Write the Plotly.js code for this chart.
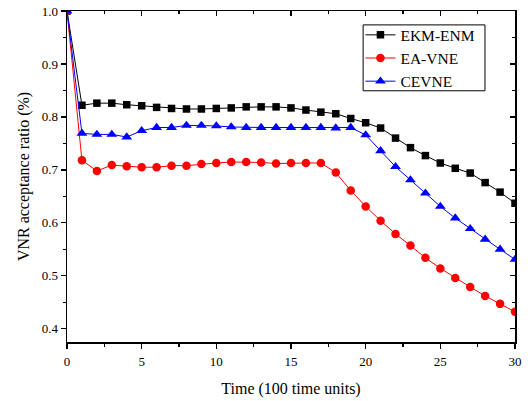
<!DOCTYPE html>
<html>
<head>
<meta charset="utf-8">
<script src="https://cdn.plot.ly/plotly-3.0.1.min.js"></script>
<style>html,body{margin:0;padding:0;background:#fff;}#chart{width:532px;height:401px;}</style>
</head>
<body>
<div id="chart"></div>
<script>
var timeSteps = [0,1,2,3,4,5,6,7,8,9,10,11,12,13,14,15,16,17,18,19,20,21,22,23,24,25,26,27,28,29,30];
var ekmEnm = [1.0,0.822,0.826,0.826,0.823,0.821,0.818,0.816,0.815,0.815,0.816,0.817,0.819,0.819,0.819,0.817,0.813,0.809,0.806,0.797,0.789,0.779,0.760,0.742,0.727,0.713,0.703,0.694,0.676,0.658,0.637];
var eaVne = [1.0,0.718,0.698,0.709,0.707,0.705,0.705,0.708,0.708,0.711,0.713,0.715,0.715,0.714,0.712,0.713,0.713,0.713,0.695,0.661,0.631,0.604,0.579,0.557,0.534,0.514,0.496,0.479,0.462,0.447,0.432];
var cevne = [1.0,0.769,0.767,0.767,0.762,0.774,0.780,0.780,0.784,0.784,0.783,0.781,0.780,0.780,0.780,0.780,0.780,0.780,0.779,0.780,0.766,0.736,0.706,0.681,0.656,0.631,0.609,0.589,0.569,0.550,0.531];
var xTickVals = [0,5,10,15,20,25,30];
var yTickVals = [0.4,0.5,0.6,0.7,0.8,0.9,1.0];
var yTickText = ['0.4','0.5','0.6','0.7','0.8','0.9','1.0'];

var serif = 'Liberation Serif, Times New Roman, serif';
var traces = [
  {x: timeSteps, y: ekmEnm, name: 'EKM-ENM', mode: 'lines+markers', line: {color: '#000000', width: 1}, marker: {symbol: 'square', size: 7.5, color: '#000000'}},
  {x: timeSteps, y: eaVne, name: 'EA-VNE', mode: 'lines+markers', line: {color: '#ff0000', width: 1}, marker: {symbol: 'circle', size: 8.5, color: '#ff0000'}},
  {x: timeSteps, y: cevne, name: 'CEVNE', mode: 'lines+markers', line: {color: '#0000ff', width: 1}, marker: {symbol: 'triangle-up', size: 9.5, color: '#0000ff'}},
  {x: [0], y: [0.5], xaxis: 'x2', yaxis: 'y2', mode: 'markers', marker: {opacity: 0}, showlegend: false, hoverinfo: 'skip'}
];
var layout = {
  width: 532, height: 401,
  margin: {l: 67, r: 17, t: 11, b: 59},
  paper_bgcolor: '#ffffff', plot_bgcolor: '#ffffff',
  font: {family: serif, size: 13, color: '#000'},
  showlegend: true,
  legend: {x: 0.655, y: 0.978, xanchor: 'left', yanchor: 'top', bgcolor: 'rgba(0,0,0,0)', borderwidth: 0, font: {family: serif, size: 15.5, color: '#000'}},
  shapes: [
    {type: 'rect', xref: 'paper', yref: 'paper', x0: 0.661, x1: 0.933, y0: 0.759, y1: 0.958, line: {color: '#000', width: 1}, fillcolor: 'rgba(0,0,0,0)', layer: 'above'}
  ],
  xaxis: {
    range: [0, 30], tickvals: xTickVals, ticks: 'outside', ticklen: 5, tickwidth: 1.3, tickcolor: '#000',
    minor: {dtick: 2.5, ticks: 'outside', ticklen: 3, tickcolor: '#000'},
    showline: true, linecolor: '#000', linewidth: 1.5, mirror: true, showgrid: false, zeroline: false,
    tickfont: {family: serif, size: 13}, ticklabelstandoff: 2,
    title: {text: 'Time (100 time units)', font: {family: serif, size: 16}, standoff: 14}
  },
  yaxis: {
    range: [0.375, 1.0], tickvals: yTickVals, ticktext: yTickText, ticks: 'outside', ticklen: 5, tickwidth: 1.3, tickcolor: '#000',
    minor: {dtick: 0.05, ticks: 'outside', ticklen: 3, tickcolor: '#000'},
    showline: true, linecolor: '#000', linewidth: 1.5, mirror: true, showgrid: false, zeroline: false,
    tickfont: {family: serif, size: 13},
    title: {text: 'VNR acceptance ratio (%)', font: {family: serif, size: 16}, standoff: 8}
  },
  xaxis2: {
    overlaying: 'x', side: 'top', anchor: 'y2', range: [0, 30], tickvals: xTickVals, ticks: 'inside', ticklen: 5, tickwidth: 1.3, tickcolor: '#000',
    minor: {dtick: 2.5, ticks: 'inside', ticklen: 3, tickcolor: '#000'},
    showticklabels: false, showline: false, showgrid: false, zeroline: false
  },
  yaxis2: {
    overlaying: 'y', side: 'right', anchor: 'x2', range: [0.375, 1.0], tickvals: yTickVals, ticks: 'inside', ticklen: 5, tickwidth: 1.3, tickcolor: '#000',
    minor: {dtick: 0.05, ticks: 'inside', ticklen: 3, tickcolor: '#000'},
    showticklabels: false, showline: false, showgrid: false, zeroline: false
  }
};
Plotly.newPlot('chart', traces, layout, {staticPlot: true, displayModeBar: false});
</script>
</body>
</html>
